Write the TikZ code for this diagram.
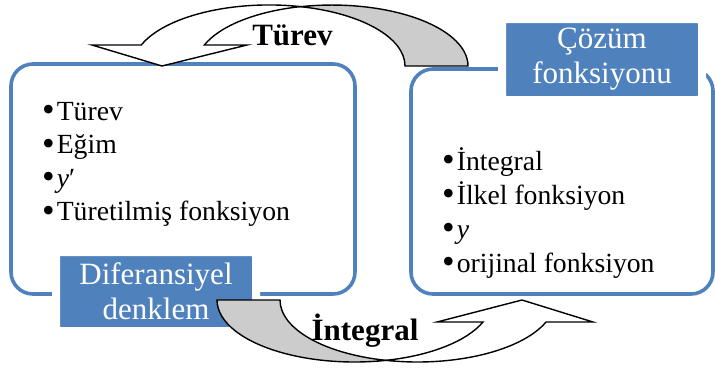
\documentclass[tikz,border=0pt]{standalone}
\usepackage{fontspec}
\usepackage{graphicx}
\setmainfont{Liberation Serif}

\definecolor{boxblue}{RGB}{79,129,189}
\definecolor{backgray}{RGB}{204,204,204}
\newcommand{\bigdot}{\raisebox{-1.5pt}{\scalebox{1.3}{\textbullet}}\hspace{2pt}}

\begin{document}
\begin{tikzpicture}[x=1pt,y=-1pt,
		panel/.style={draw=boxblue,line width=3.6,rounded corners=22,inner sep=0},
		tag/.style={fill=boxblue,draw=white,line width=8,rounded corners=4,text=white,
			font=\fontsize{31}{35}\selectfont,align=center,inner sep=0},
		item/.style={anchor=base west,inner sep=0,font=\fontsize{27.7}{33}\selectfont},
		curvearrow/.style={draw=black,line width=1.4,line join=miter},
		word/.style={anchor=base,inner sep=0,font=\bfseries\fontsize{31}{36}\selectfont}]
	\useasboundingbox (0,0) rectangle (715,368);
	% the two panels
	\node[panel,minimum width=344,minimum height=230] (left) at (183,179) {};
	\node[panel,minimum width=302,minimum height=225] (right) at (562,181.5) {};
	% lists
	\foreach \txt [count=\i] in {Türev,Eğim,\textit{y}′,Türetilmiş fonksiyon}
		\node[item] (lft\i) at (42,{86.5+33.5*\i}) {\bigdot\txt};
	\foreach \txt [count=\i] in {İntegral,İlkel fonksiyon,\textit{y},orijinal fonksiyon}
		\node[item] (rgt\i) at (442,{136+34*\i}) {\bigdot\txt};
	% tags
	\node[tag,minimum width=200,minimum height=79] (dif) at (156,291.5) {Diferansiyel\\denklem};
	\node[tag,minimum width=200,minimum height=81] (coz) at (602,59.5) {Çözüm\\fonksiyonu};
	% upper arrow: back, then front
	\draw[curvearrow,fill=backgray] (300.5,6.7)
		arc[start angle=256.6,end angle=360,x radius=136,y radius=61] -- (405,66)
		arc[start angle=0,end angle=-76.6,x radius=136,y radius=61] -- cycle;
	\draw[curvearrow,fill=white] (141.3,45)
		arc[start angle=200.1,end angle=283.4,x radius=136,y radius=61]
		arc[start angle=256.6,end angle=200.1,x radius=136,y radius=61]
		-- (247,45) -- (162,66) -- (92,45) -- cycle;
	% lower arrow: back, then front
	\draw[curvearrow,fill=backgray] (217,300)
		arc[start angle=180,end angle=76.75,x radius=137.5,y radius=62]
		arc[start angle=103.25,end angle=180,x radius=137.5,y radius=62] -- cycle;
	\draw[curvearrow,fill=white] (483,322)
		arc[start angle=20.8,end angle=76.75,x radius=137.5,y radius=62]
		arc[start angle=103.25,end angle=20.8,x radius=137.5,y radius=62]
		-- (593,322) -- (522,300) -- (437,322) -- cycle;
	\node[word] (turev) at (292.5,45) {Türev};
	\node[word] (integral) at (365,340) {İntegral};
\end{tikzpicture}
\end{document}
